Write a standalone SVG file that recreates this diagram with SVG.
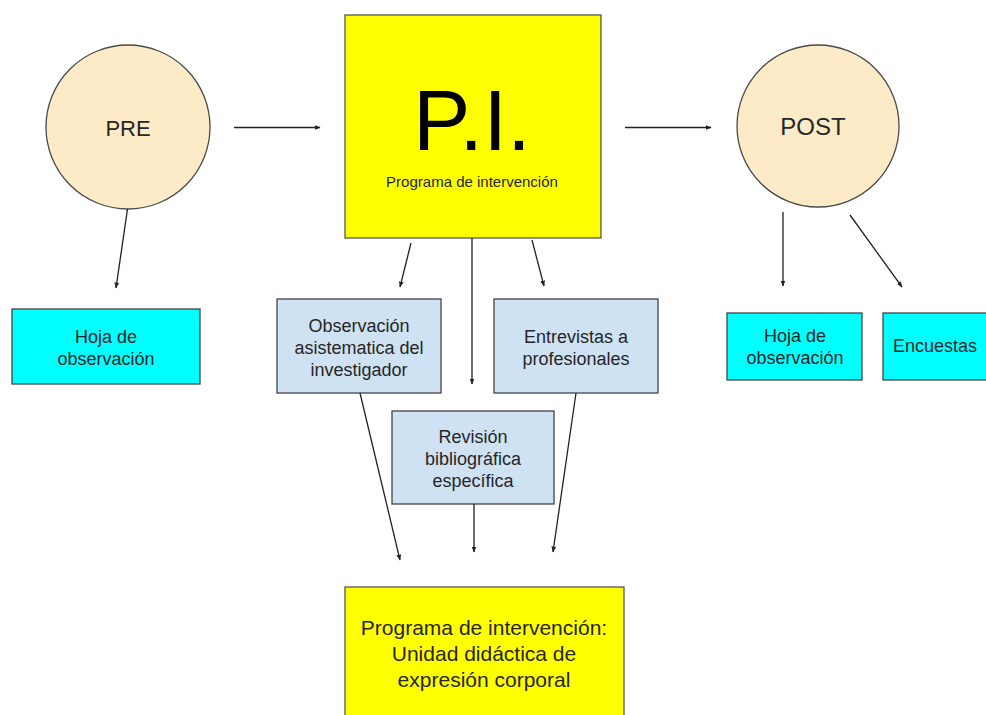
<svg xmlns="http://www.w3.org/2000/svg" width="986" height="715" viewBox="0 0 986 715">
<style>
text{font-family:"Liberation Sans",Arial,sans-serif;fill:#262626;text-anchor:middle}
.circ{fill:#fdebc8;stroke:#4a4a4a;stroke-width:1.3}
.yel{fill:#ffff00;stroke:#555;stroke-width:1.3}
.cyan{fill:#00ffff;stroke:#444;stroke-width:1.3}
.blue{fill:#cfe2f3;stroke:#444;stroke-width:1.3}
.bt{font-size:18px}
#connectors line{stroke:#222;stroke-width:1.3;marker-end:url(#ah)}
</style>
<defs>
<marker id="ah" viewBox="0 0 10 10" refX="9" refY="5" markerWidth="6" markerHeight="6" orient="auto" markerUnits="userSpaceOnUse">
<path d="M0,1 L10,5 L0,9 z" fill="#222"/>
</marker>
</defs>
<rect width="986" height="715" fill="#fff"/>
<g id="pre">
<circle class="circ" cx="128" cy="127" r="82"/>
<text x="128" y="136" font-size="22">PRE</text>
</g>
<g id="pi">
<rect class="yel" x="345" y="15" width="256" height="223"/>
<text x="472" y="150" font-size="86" style="fill:#000">P.I.</text>
<text x="472" y="187" font-size="15">Programa de intervención</text>
</g>
<g id="post">
<circle class="circ" cx="818" cy="126" r="81"/>
<text x="813" y="135" font-size="24">POST</text>
</g>
<g id="hoja-pre">
<rect class="cyan" x="12" y="309" width="188" height="75"/>
<text class="bt" x="106" y="343">Hoja de</text>
<text class="bt" x="106" y="365">observación</text>
</g>
<g id="observacion">
<rect class="blue" x="277" y="299" width="164" height="94"/>
<text class="bt" x="359" y="332">Observación</text>
<text class="bt" x="359" y="354">asistematica del</text>
<text class="bt" x="359" y="376">investigador</text>
</g>
<g id="entrevistas">
<rect class="blue" x="494" y="299" width="164" height="94"/>
<text class="bt" x="576" y="343">Entrevistas a</text>
<text class="bt" x="576" y="365">profesionales</text>
</g>
<g id="revision">
<rect class="blue" x="392" y="411" width="162" height="93"/>
<text class="bt" x="473" y="443">Revisión</text>
<text class="bt" x="473" y="465">bibliográfica</text>
<text class="bt" x="473" y="487">específica</text>
</g>
<g id="hoja-post">
<rect class="cyan" x="727" y="313" width="135" height="67"/>
<text class="bt" x="795" y="342">Hoja de</text>
<text class="bt" x="795" y="364">observación</text>
</g>
<g id="encuestas">
<rect class="cyan" x="883" y="313" width="110" height="67"/>
<text class="bt" x="935" y="352">Encuestas</text>
</g>
<g id="programa">
<rect class="yel" x="345" y="587" width="279" height="140"/>
<text x="484" y="635" font-size="21">Programa de intervención:</text>
<text x="484" y="661" font-size="21">Unidad didáctica de</text>
<text x="484" y="687" font-size="21">expresión corporal</text>
</g>
<g id="connectors">
<line x1="234" y1="127.5" x2="320" y2="127.5"/>
<line x1="625" y1="127.5" x2="711" y2="127.5"/>
<line x1="127.5" y1="209" x2="116" y2="288"/>
<line x1="411" y1="243" x2="400" y2="287"/>
<line x1="472" y1="238" x2="472" y2="384"/>
<line x1="532" y1="240" x2="544" y2="286"/>
<line x1="783" y1="212" x2="783" y2="286"/>
<line x1="850" y1="215" x2="902" y2="287"/>
<line x1="360" y1="393" x2="400" y2="560"/>
<line x1="474" y1="504" x2="474" y2="552"/>
<line x1="576" y1="393" x2="553" y2="552"/>
</g>
</svg>
